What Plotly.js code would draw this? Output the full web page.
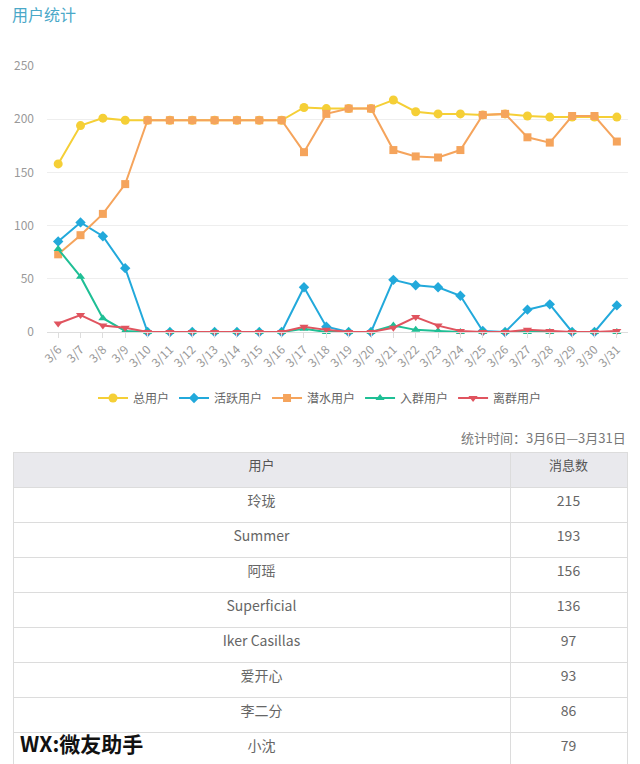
<!DOCTYPE html>
<html>
<head>
<meta charset="utf-8">
<script src="https://cdn.plot.ly/plotly-3.0.1.min.js"></script>
<style>
  html, body { margin: 0; padding: 0; background: #fff; }
  #chart { width: 640px; height: 764px; }
</style>
</head>
<body>
<div id="chart"></div>
<script>
// dates 3/6 .. 3/31
const days = ['3/6','3/7','3/8','3/9','3/10','3/11','3/12','3/13','3/14','3/15','3/16','3/17','3/18',
              '3/19','3/20','3/21','3/22','3/23','3/24','3/25','3/26','3/27','3/28','3/29','3/30','3/31'];

const totalUsers  = [158,194,201,199,199,199,199,199,199,199,199,211,210,210,210,218,207,205,205,204,205,203,202,202,202,202];
const activeUsers = [85,103,90,60,0,0,0,0,0,0,0,42,5,0,0,49,44,42,34,1,0,21,26,0,0,25];
const lurkUsers   = [73,91,111,139,199,199,199,199,199,199,199,169,205,210,210,171,165,164,171,204,205,183,178,203,203,179];
const joinUsers   = [78,52,13,1,0,0,0,0,0,0,0,3,0,0,0,6,2,1,0,0,0,0,0,0,0,0];
const leaveUsers  = [8,16,6,4,0,0,0,0,0,0,0,5,2,0,0,4,14,6,1,0,0,2,1,0,0,1];

const seriesNames = ['总用户','活跃用户','潜水用户','入群用户','离群用户'];

// table
const userNames = ['玲珑','Summer','阿瑶','Superficial','Iker Casillas','爱开心','李二分','小沈'];
const msgCounts = [215,193,156,136,97,93,86,79];

const W = 640, H = 764;
const px = v => v / W;
const py = v => 1 - v / H;

function lineTrace(y, name, color, symbol) {
    return {
        x: days, y, name,
        type: 'scatter', mode: 'lines+markers',
        line: { color, width: 2 },
        marker: { color, symbol, size: symbol === 'circle' ? 9 : 8 },
        cliponaxis: false
    };
}

const traces = [
    lineTrace(totalUsers,  seriesNames[0], '#f5cf36', 'circle'),
    lineTrace(activeUsers, seriesNames[1], '#22a9db', 'diamond'),
    lineTrace(lurkUsers,   seriesNames[2], '#f5a45c', 'square'),
    lineTrace(joinUsers,   seriesNames[3], '#1fbf95', 'triangle-up'),
    lineTrace(leaveUsers,  seriesNames[4], '#e0545f', 'triangle-down'),
    {
        type: 'table',
        domain: { x: [px(13), px(627)], y: [0, py(452)] },
        columnwidth: [497, 117],
        header: {
            values: ['用户', '消息数'],
            align: 'center',
            height: 35,
            fill: { color: '#e9e9ed' },
            line: { color: '#dcdcdc', width: 1 },
            font: { family: 'Noto Sans CJK SC, sans-serif', size: 13, color: '#555' }
        },
        cells: {
            values: [userNames, msgCounts],
            align: 'center',
            height: 35,
            fill: { color: '#ffffff' },
            line: { color: '#dcdcdc', width: 1 },
            font: { family: 'Noto Sans CJK SC, sans-serif', size: 14, color: '#666' }
        }
    }
];

const layout = {
    width: W, height: H,
    margin: { l: 0, r: 0, t: 0, b: 0, pad: 0 },
    paper_bgcolor: '#fff',
    plot_bgcolor: '#fff',
    font: { family: 'Noto Sans CJK SC, sans-serif', color: '#888', size: 12 },
    title: {
        text: '用户统计',
        x: px(12), xanchor: 'left',
        y: py(15), yanchor: 'middle',
        font: { size: 16, color: '#4aa8c8' },
        automargin: false
    },
    showlegend: true,
    legend: {
        orientation: 'h',
        x: 0.5, xanchor: 'center',
        y: py(398), yanchor: 'middle',
        font: { size: 12, color: '#666' },
        itemwidth: 30,
        traceorder: 'normal'
    },
    xaxis: {
        domain: [px(47), px(628)],
        type: 'category',
        range: [-0.5, days.length - 0.5],
        automargin: false,
        tickangle: -45,
        ticks: 'outside', ticklen: 5, tickcolor: '#ddd',
        showgrid: false,
        showline: true, linecolor: '#ddd',
        zeroline: false,
        tickfont: { size: 12, color: '#999' },
        fixedrange: true
    },
    yaxis: {
        domain: [py(332), py(66)],
        range: [0, 250],
        automargin: false,
        tickvals: [0, 50, 100, 150, 200, 250],
        showgrid: true, gridcolor: '#eeeeee',
        zeroline: false,
        showline: false,
        ticks: '',
        ticklabelstandoff: 12,
        tickfont: { size: 12, color: '#999' },
        fixedrange: true
    },
    annotations: [
        {
            text: '统计时间：3月6日—3月31日',
            xref: 'paper', yref: 'paper',
            x: px(628), xanchor: 'right',
            y: py(437), yanchor: 'middle',
            showarrow: false,
            font: { size: 13, color: '#777' }
        },
        {
            text: '<b>WX:微友助手</b>',
            xref: 'paper', yref: 'paper',
            x: px(18), xanchor: 'left',
            y: py(743), yanchor: 'middle',
            showarrow: false,
            font: { size: 21, color: '#111' }
        }
    ]
};

Plotly.newPlot('chart', traces, layout, { displayModeBar: false, staticPlot: true });
</script>
</body>
</html>
